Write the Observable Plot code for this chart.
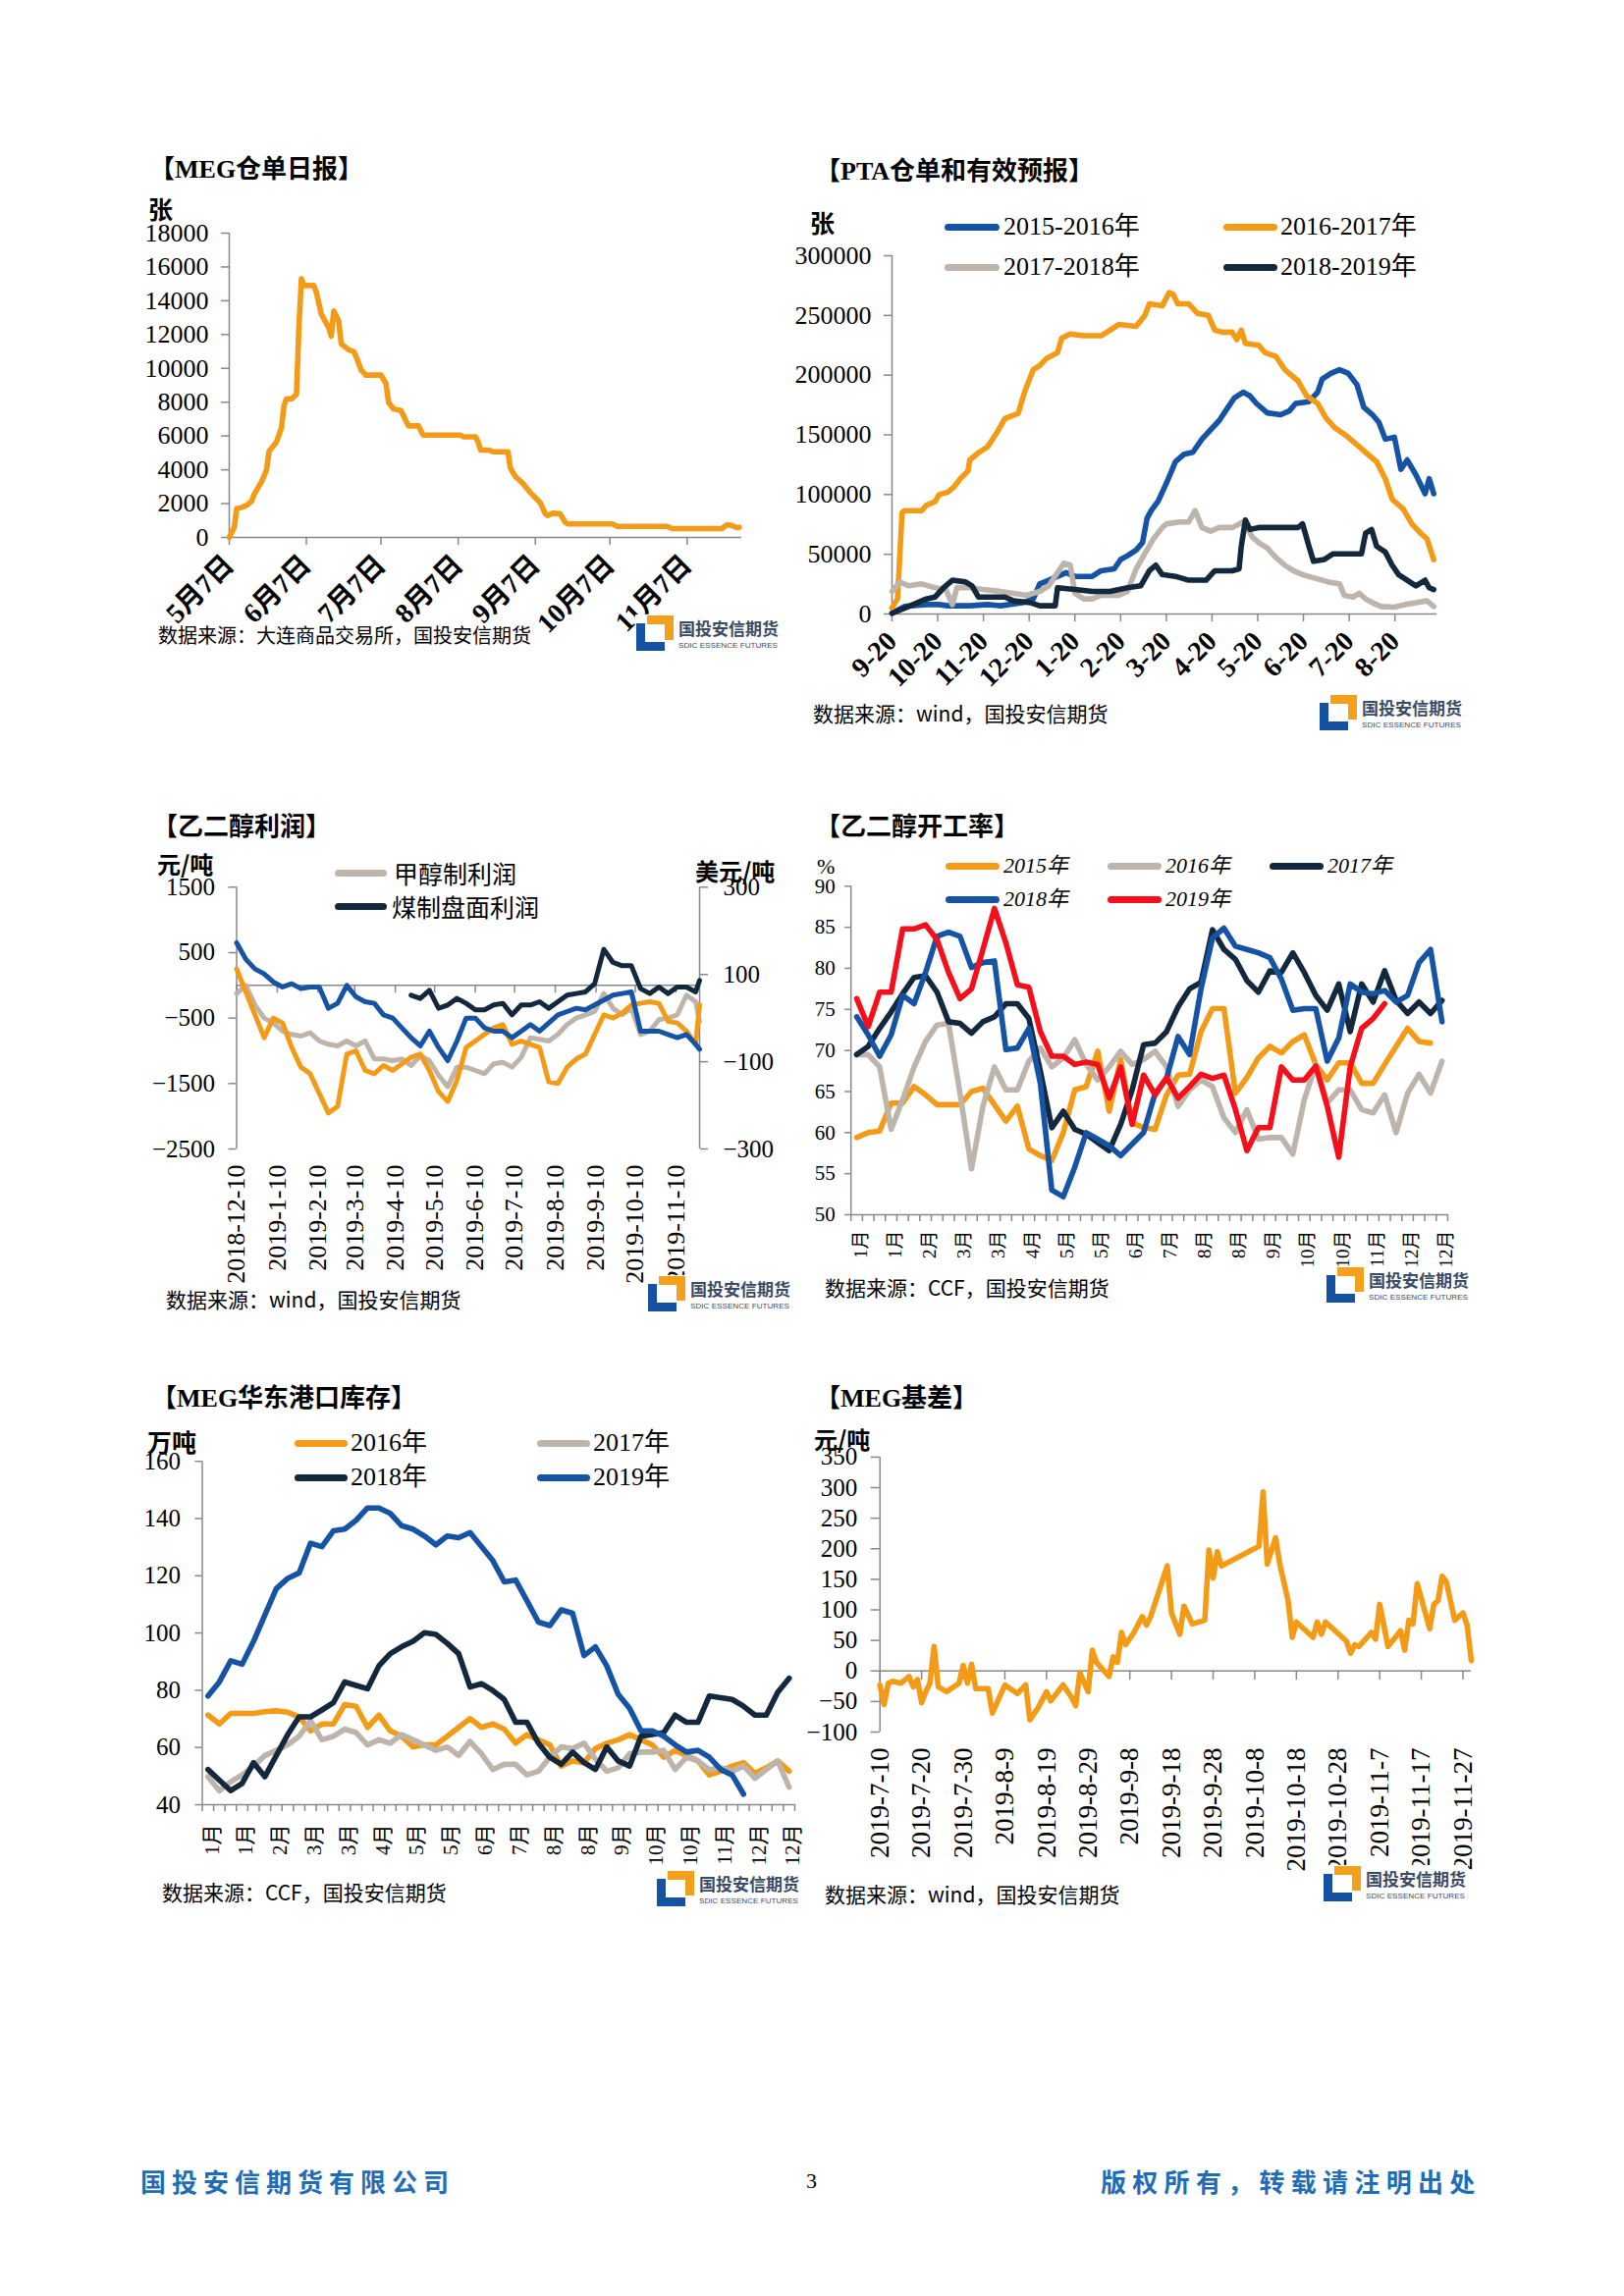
<!DOCTYPE html>
<html><head><meta charset="utf-8">
<script src="https://cdn.jsdelivr.net/npm/d3@7"></script>
<script src="https://cdn.jsdelivr.net/npm/@observablehq/plot@0.6"></script>
<style>
body{margin:0;background:#fff;}
#page{position:relative;width:1654px;height:2339px;background:#fff;overflow:hidden;}
#page svg{overflow:visible;}
</style></head><body><div id="page"></div>
<script>
// ---------------- DATA ----------------
// Chart 1: MEG仓单日报 (张)
const megDates = ["2019-05-07","2019-05-09","2019-05-10","2019-05-12","2019-05-14","2019-05-16","2019-05-17","2019-05-20","2019-05-22","2019-05-23","2019-05-26","2019-05-28","2019-05-29","2019-05-30","2019-06-01","2019-06-03","2019-06-04","2019-06-05","2019-06-06","2019-06-10","2019-06-11","2019-06-13","2019-06-16","2019-06-17","2019-06-18","2019-06-20","2019-06-21","2019-06-24","2019-06-26","2019-06-27","2019-06-29","2019-07-01","2019-07-07","2019-07-09","2019-07-10","2019-07-12","2019-07-15","2019-07-18","2019-07-22","2019-07-24","2019-08-08","2019-08-09","2019-08-14","2019-08-15","2019-08-16","2019-08-19","2019-08-21","2019-08-27","2019-08-28","2019-08-30","2019-09-02","2019-09-05","2019-09-07","2019-09-09","2019-09-11","2019-09-12","2019-09-14","2019-09-17","2019-09-19","2019-09-20","2019-10-08","2019-10-10","2019-10-30","2019-11-01","2019-11-21","2019-11-23","2019-11-25","2019-11-27","2019-11-28"];
const megWarrants = [0,600,1700,1780,1900,2150,2550,3300,4000,5100,5650,6500,7800,8200,8200,8450,12400,15300,14900,14900,14500,13200,12400,11900,13400,12800,11450,11100,11000,10700,9900,9600,9600,9100,8000,7600,7500,6600,6600,6050,6050,5950,5950,5650,5170,5170,5070,5070,4100,3600,3200,2650,2350,2050,1400,1300,1430,1400,900,800,800,650,650,520,520,750,700,580,600];
const megTickDates = ["2019-05-07","2019-06-07","2019-07-07","2019-08-07","2019-09-07","2019-10-07","2019-11-07"];
const megTickLabels = ["5月7日","6月7日","7月7日","8月7日","9月7日","10月7日","11月7日"];

// Chart 2: PTA仓单和有效预报 (张); x = months after 9-20
const ptaTickLabels = ["9-20","10-20","11-20","12-20","1-20","2-20","3-20","4-20","5-20","6-20","7-20","8-20"];
const pta1516 = [[0,600],[0.27,6300],[0.75,7900],[1.03,7900],[1.22,6900],[1.70,6900],[2.09,7900],[2.37,6900],[2.85,9400],[3.09,12600],[3.23,25200],[3.43,28300],[3.62,31500],[3.81,34600],[4.00,31500],[4.38,31500],[4.57,36200],[4.86,37800],[5.00,45600],[5.15,48800],[5.34,53500],[5.48,59800],[5.58,80300],[5.67,86600],[5.82,94400],[6.01,110200],[6.20,127500],[6.39,133800],[6.58,135400],[6.78,146400],[6.97,154300],[7.16,162100],[7.35,173100],[7.49,181000],[7.68,185700],[7.83,182600],[7.97,176300],[8.21,168400],[8.50,166800],[8.69,170000],[8.83,176300],[9.12,177800],[9.31,185700],[9.41,196700],[9.60,201500],[9.79,204600],[9.98,201500],[10.17,192000],[10.32,173100],[10.51,166800],[10.65,160500],[10.79,146400],[10.99,148000],[11.13,121200],[11.27,129000],[11.46,116500],[11.66,100700],[11.75,113300],[11.85,100700]];
const pta1617 = [[0,5000],[0.12,12600],[0.22,85000],[0.27,86500],[0.65,86500],[0.75,91000],[0.94,94000],[1.03,100000],[1.22,102000],[1.37,107000],[1.51,114000],[1.66,119600],[1.70,129000],[1.89,135000],[2.09,140000],[2.28,151000],[2.47,163700],[2.76,168000],[2.90,186000],[3.09,204600],[3.23,208000],[3.38,214000],[3.62,218800],[3.71,231000],[3.90,234500],[4.19,233000],[4.57,233000],[4.77,237700],[4.96,242400],[5.34,240800],[5.53,250000],[5.63,259700],[5.91,258000],[6.06,269000],[6.15,267600],[6.25,259700],[6.49,259700],[6.68,251800],[6.92,250000],[7.06,237700],[7.21,236000],[7.44,236000],[7.54,229800],[7.64,237700],[7.73,226600],[8.02,225000],[8.16,218800],[8.40,215600],[8.59,204600],[8.88,195200],[9.07,182600],[9.31,176300],[9.50,163700],[9.69,155800],[9.93,149500],[10.17,141700],[10.36,135400],[10.60,127500],[10.79,113300],[10.94,96000],[11.18,88100],[11.37,75500],[11.56,67700],[11.70,63000],[11.85,45600]];
const pta1718 = [[0,18900],[0.17,26800],[0.36,23600],[0.65,25200],[0.94,22000],[1.18,20500],[1.32,7900],[1.42,22000],[1.70,22000],[1.99,20500],[2.37,18900],[2.66,17300],[2.95,15700],[3.23,18900],[3.43,23600],[3.62,34600],[3.76,42500],[3.90,40900],[4.00,17300],[4.19,12600],[4.38,12600],[4.57,15700],[4.96,15700],[5.15,18900],[5.34,37800],[5.53,50400],[5.72,63000],[5.91,72400],[6.01,75500],[6.30,77100],[6.49,77100],[6.63,86600],[6.78,72400],[6.97,69300],[7.16,72400],[7.44,72400],[7.68,77100],[7.88,64500],[8.02,59800],[8.21,55100],[8.40,47200],[8.59,40900],[8.78,36200],[8.98,33000],[9.26,29900],[9.55,26800],[9.79,25200],[9.89,15700],[10.08,14200],[10.22,17300],[10.36,12600],[10.51,9400],[10.70,6300],[10.99,5700],[11.22,7900],[11.46,9400],[11.70,11000],[11.85,6300]];
const pta1819 = [[0,600],[0.36,6300],[0.75,12600],[0.94,14200],[1.13,22000],[1.32,28300],[1.61,26800],[1.75,23600],[1.89,14200],[2.09,14200],[2.47,14200],[2.66,11000],[3.04,9400],[3.23,6900],[3.57,6900],[3.62,22000],[4.00,20500],[4.38,18900],[4.77,18900],[5.15,22000],[5.44,23600],[5.63,36200],[5.77,40900],[5.91,33000],[6.20,31500],[6.49,28300],[6.87,28300],[7.06,36200],[7.44,36200],[7.59,37800],[7.64,56700],[7.73,78700],[7.83,70800],[8.02,72400],[8.40,72400],[8.88,72400],[8.98,75500],[9.12,56700],[9.22,44100],[9.45,45600],[9.65,50400],[9.93,50400],[10.27,50400],[10.36,67700],[10.49,70800],[10.60,56700],[10.79,51900],[10.94,40900],[11.08,33000],[11.27,28300],[11.46,23600],[11.66,28300],[11.75,22000],[11.85,20500]];

// Chart 3: 乙二醇利润 (weekly from 2018-12-10, last point 2019-11-28)
const profitStart = "2018-12-10", profitEnd = "2019-11-28";
const profitTickDates = ["2018-12-10","2019-01-10","2019-02-10","2019-03-10","2019-04-10","2019-05-10","2019-06-10","2019-07-10","2019-08-10","2019-09-10","2019-10-10","2019-11-10"];
const profitTickLabels = ["2018-12-10","2019-1-10","2019-2-10","2019-3-10","2019-4-10","2019-5-10","2019-6-10","2019-7-10","2019-8-10","2019-9-10","2019-10-10","2019-11-10"];
const profitMethanol = [-125,0,-300,-500,-575,-700,-750,-775,-725,-850,-900,-925,-850,-925,-850,-1125,-1125,-1150,-1125,-1225,-1075,-1150,-1375,-1550,-1250,-1250,-1300,-1350,-1200,-1175,-1250,-1100,-800,-825,-850,-750,-600,-500,-450,-400,-125,-350,-450,-350,-750,-700,-525,-500,-450,-150,-250,-550];
const profitCoal = [null,null,null,null,null,null,null,null,null,null,null,null,null,null,null,null,null,null,null,-150,-200,-75,-350,-300,-200,-275,-375,-375,-300,-275,-450,-300,-300,-250,-350,-250,-150,-125,-100,25,550,350,300,300,-50,-125,-25,-125,-25,-25,-100,75];
const profitOrange = [250,-100,-450,-800,-500,-575,-950,-1250,-1350,-1650,-1950,-1850,-1050,-1000,-1300,-1350,-1225,-1300,-1200,-1100,-1050,-1300,-1625,-1775,-1450,-950,-850,-750,-650,-600,-900,-850,-900,-950,-1475,-1500,-1250,-1125,-1050,-750,-450,-500,-425,-300,-275,-250,-275,-550,-575,-700,-900,-300];
const profitBlue = [650,400,250,175,50,-25,25,-50,-25,-25,-350,-275,0,-175,-250,-275,-450,-500,-650,-800,-925,-700,-950,-1150,-850,-500,-500,-650,-700,-700,-800,-700,-600,-700,-575,-450,-400,-350,-375,-300,-225,-150,-125,-100,-700,-700,-700,-750,-800,-750,-900,-975];
const profitLeftTicks = [1500,500,-500,-1500,-2500];
const profitRightTicks = [300,100,-100,-300];

// Chart 4: 乙二醇开工率 (%), weekly
const weekLabelWeeks = [1,4,7,10,13,16,19,22,25,28,31,34,37,40,43,46,49,52];
const weekLabels = ["1月","1月","2月","3月","3月","4月","5月","5月","6月","7月","8月","8月","9月","10月","10月","11月","12月","12月"];
const rate2015 = [59.4,60.0,60.2,63.6,63.6,65.6,64.6,63.4,63.4,63.4,65.0,65.4,63.4,61.4,63.2,58.0,57.2,56.6,60.0,65.2,65.6,69.9,62.6,68.9,61.2,60.6,60.4,64.6,67.0,67.1,72.3,75.1,75.1,64.8,66.7,69.1,70.5,69.7,71.1,71.9,68.3,66.4,68.5,68.5,66.0,66.0,68.3,70.5,72.7,71.1,70.9,null];
const rate2016 = [69.5,69.5,68.0,60.4,64.0,68.0,71.1,73.1,73.3,64.8,55.6,63.2,68.0,65.2,65.2,68.7,70.3,68.0,69.1,71.3,68.3,66.4,68.0,69.9,68.3,68.9,69.9,68.0,63.2,65.2,66.4,65.6,61.8,60.0,62.8,59.2,59.4,59.4,57.4,64.0,68.3,63.6,65.2,65.2,62.8,62.4,64.6,60.0,64.8,67.1,64.8,68.7];
const rate2017 = [69.5,70.5,72.7,74.7,76.9,78.9,79.1,77.1,73.5,73.3,72.1,73.5,74.1,75.7,75.7,73.9,67.5,60.6,62.6,60.4,59.8,58.8,57.8,61.0,65.2,70.7,70.9,72.3,75.3,77.5,78.3,84.7,82.3,81.1,78.5,77.1,79.7,79.5,81.9,79.5,76.7,74.9,78.1,72.3,78.1,75.9,79.7,76.1,74.5,75.9,74.5,76.1];
const rate2018 = [74.1,71.9,69.3,71.9,76.7,75.7,79.5,83.9,84.4,83.9,80.1,80.7,80.9,70.1,70.3,72.7,66.0,53.0,52.2,55.8,60.0,59.2,58.4,57.2,58.6,60.0,64.8,66.6,71.7,69.5,77.5,83.7,84.9,82.7,82.3,81.9,81.3,78.7,74.9,75.1,75.1,68.7,71.5,78.1,77.1,76.9,77.3,75.9,76.7,80.7,82.3,73.5];
const rate2019 = [76.3,72.9,77.1,77.1,84.8,84.8,85.3,83.5,79.5,76.3,77.5,82.3,87.3,83.1,78.0,77.7,72.3,69.3,69.3,68.3,68.6,68.3,64.2,68.0,61.0,67.0,64.6,66.7,64.2,65.6,67.1,66.6,67.0,62.8,57.8,60.6,60.6,68.0,66.4,66.4,68.1,63.2,57.0,68.0,72.7,73.9,75.7];

// Chart 5: MEG华东港口库存 (万吨), weekly
const inv2016 = [71.3,68.2,71.9,71.9,71.9,72.5,72.8,72.3,70.7,65.8,68.2,68.2,75.0,74.4,67.0,71.3,65.8,63.9,60.2,60.9,60.9,63.9,67.0,70.1,67.0,68.2,66.4,61.5,64.5,62.7,60.9,53.5,55.3,54.7,59.6,61.5,62.7,64.5,62.7,60.9,56.6,59.0,57.2,55.3,50.4,51.7,53.5,54.7,51.0,52.9,55.3,51.7];
const inv2017 = [49.8,44.9,48.0,50.4,53.5,57.2,59.0,60.9,63.9,69.4,62.7,63.9,66.4,65.2,60.9,62.7,61.5,64.5,62.7,60.9,59.0,60.2,57.2,62.1,57.8,52.3,54.1,54.1,50.4,51.7,56.6,60.2,59.6,61.5,55.9,51.7,52.9,57.8,58.4,58.4,59.0,52.3,56.6,55.3,52.3,52.9,51.7,53.5,49.2,52.3,55.3,46.1];
const inv2018 = [52.3,48.6,44.9,47.4,54.7,49.8,57.2,64.5,70.7,70.7,73.1,75.6,82.9,81.7,80.5,88.5,92.8,95.2,97.1,100.1,99.5,96.4,92.8,81.1,82.3,79.9,76.8,68.8,68.8,61.5,56.6,54.1,58.4,54.7,52.3,60.2,55.3,53.5,63.9,64.5,65.2,71.3,68.8,68.8,78.0,77.4,76.8,74.4,71.3,71.3,79.3,84.2];
const inv2019 = [78.0,82.9,90.3,89.1,97.1,106.3,115.5,119.1,121.0,131.4,130.2,135.7,136.3,139.4,143.7,143.7,141.8,137.5,136.3,133.9,130.8,133.9,133.3,135.1,130.2,125.3,117.9,118.5,111.2,103.8,102.6,108.1,106.9,92.1,95.2,88.5,78.6,73.7,65.8,65.8,63.9,60.9,58.4,59.0,56.6,52.3,50.4,43.7];

// Chart 6: MEG基差 (元/吨)
const basisDates = ["2019-07-10","2019-07-11","2019-07-12","2019-07-13","2019-07-15","2019-07-17","2019-07-18","2019-07-19","2019-07-20","2019-07-21","2019-07-22","2019-07-23","2019-07-24","2019-07-26","2019-07-29","2019-07-30","2019-07-31","2019-08-01","2019-08-02","2019-08-05","2019-08-06","2019-08-09","2019-08-12","2019-08-14","2019-08-15","2019-08-17","2019-08-19","2019-08-20","2019-08-23","2019-08-25","2019-08-26","2019-08-27","2019-08-29","2019-08-30","2019-08-31","2019-09-03","2019-09-04","2019-09-05","2019-09-06","2019-09-07","2019-09-09","2019-09-11","2019-09-12","2019-09-13","2019-09-17","2019-09-18","2019-09-20","2019-09-21","2019-09-23","2019-09-26","2019-09-27","2019-09-28","2019-09-29","2019-09-30","2019-10-09","2019-10-10","2019-10-11","2019-10-13","2019-10-14","2019-10-16","2019-10-17","2019-10-18","2019-10-22","2019-10-23","2019-10-24","2019-10-25","2019-10-30","2019-10-31","2019-11-01","2019-11-02","2019-11-05","2019-11-06","2019-11-07","2019-11-09","2019-11-12","2019-11-13","2019-11-14","2019-11-15","2019-11-16","2019-11-19","2019-11-20","2019-11-21","2019-11-22","2019-11-23","2019-11-25","2019-11-27","2019-11-28","2019-11-29"];
const basisValues = [-23,-55,-20,-17,-20,-9,-26,-14,-52,-34,-20,40,-26,-34,-20,9,-20,11,-29,-29,-69,-23,-37,-23,-80,-60,-34,-49,-23,-43,-57,-3,-34,34,14,-9,23,14,63,43,63,89,75,89,172,95,60,106,77,83,198,152,195,172,204,293,175,218,175,115,55,80,55,80,60,80,49,29,43,40,63,52,109,40,66,34,83,77,143,69,109,115,155,146,83,95,75,17];
const basisTickDates = ["2019-07-10","2019-07-20","2019-07-30","2019-08-09","2019-08-19","2019-08-29","2019-09-08","2019-09-18","2019-09-28","2019-10-08","2019-10-18","2019-10-28","2019-11-07","2019-11-17","2019-11-27"];
const basisTickLabels = ["2019-7-10","2019-7-20","2019-7-30","2019-8-9","2019-8-19","2019-8-29","2019-9-8","2019-9-18","2019-9-28","2019-10-8","2019-10-18","2019-10-28","2019-11-7","2019-11-17","2019-11-27"];

// ---------------- STYLE ----------------
const ORANGE = "#F39B17", BLUE = "#1553A5", NAVY = "#13283C", GREY = "#BDB4AB", RED = "#F50F1B", AX = "#888888";
const LW = 5.6;
const SERIF = '"Liberation Serif","Noto Sans CJK SC",serif';
const CJK = '"Noto Sans CJK SC","Liberation Serif",sans-serif';
const page = document.getElementById("page");
const pd = s => new Date(s + "T00:00:00Z");
const fmtNum = d => d < 0 ? "\u2212" + Math.abs(d) : String(d);

function txt(s, x, y, size, o = {}) {
  const d = document.createElement("div");
  d.textContent = s;
  d.style.cssText = `position:absolute;left:${x}px;top:${y - size / 2}px;font-size:${size}px;line-height:${size}px;white-space:nowrap;font-family:${o.family || SERIF};font-weight:${o.weight || "normal"};font-style:${o.italic ? "italic" : "normal"};color:${o.color || "#000"};letter-spacing:${o.ls || 0}px;`;
  page.appendChild(d);
  return d;
}
function swatch(x1, x2, y, color) {
  const d = document.createElement("div");
  d.style.cssText = `position:absolute;left:${x1}px;top:${y - 3.5}px;width:${x2 - x1}px;height:7px;border-radius:3.5px;background:${color};`;
  page.appendChild(d);
}
function place(svg, left, top) {
  svg.style.position = "absolute";
  svg.style.left = left + "px";
  svg.style.top = top + "px";
  svg.style.maxWidth = "none";
  page.appendChild(svg);
}
function logo(x, y) {
  const d = document.createElement("div");
  d.style.cssText = `position:absolute;left:${x}px;top:${y}px;width:148px;height:38px;background:#fff;`;
  d.innerHTML = `<svg width="148" height="38" style="overflow:visible">
    <polygon points="1,9 10,9 10,28 30,28 30,37 1,37" fill="#1552A3"/>
    <polygon points="12,1 39,1 39,26 30,26 30,10 12,10" fill="#F5A01A"/>
    <text x="44" y="21" font-size="17" font-weight="bold" font-family='"Noto Sans CJK SC"' fill="#3A4A66">国投安信期货</text>
    <text x="44" y="34" font-size="8" font-family='"Liberation Sans"' fill="#3A4A66" textLength="101" lengthAdjust="spacingAndGlyphs">SDIC ESSENCE FUTURES</text>
  </svg>`;
  page.appendChild(d);
}
const baseStyle = size => ({fontFamily: SERIF, fontSize: size + "px", color: "#000", background: "transparent", overflow: "visible"});

// ---------------- CHART 1 ----------------
{
  const rows = megDates.map((d, i) => ({date: pd(d), v: megWarrants[i]}));
  const tickMap = new Map(megTickDates.map((d, i) => [+pd(d), megTickLabels[i]]));
  const svg = Plot.plot({
    width: 635, height: 422, marginLeft: 93, marginRight: 20, marginTop: 12, marginBottom: 100,
    style: baseStyle(26),
    x: {type: "utc", domain: [pd("2019-05-07"), pd("2019-11-29")], label: null},
    y: {domain: [0, 18000], label: null},
    marks: [
      Plot.axisY({ticks: d3.range(0, 18001, 2000), tickSize: 8, tickPadding: 13, stroke: AX, strokeWidth: 1.5, tickFormat: fmtNum, fontSize: 26, label: null}),
      Plot.axisX({ticks: megTickDates.map(pd), tickSize: 8, tickPadding: 15, tickRotate: -45, stroke: AX, strokeWidth: 1.5, tickFormat: d => tickMap.get(+d), fontSize: 28, fontWeight: "bold", label: null}),
      Plot.ruleX([pd("2019-05-07")], {stroke: AX, strokeWidth: 1.5}),
      Plot.ruleY([0], {stroke: AX, strokeWidth: 1.5}),
      Plot.line(rows, {x: "date", y: "v", stroke: ORANGE, strokeWidth: LW})
    ]
  });
  place(svg, 140, 225);
  txt("【MEG仓单日报】", 152, 173, 26, {weight: "bold"});
  txt("张", 151, 212, 25, {weight: "bold", family: CJK});
  txt("数据来源：大连商品交易所，国投安信期货", 161, 647, 20, {family: CJK});
}

// ---------------- CHART 2 ----------------
{
  const series = [["2015-2016年", pta1516, BLUE], ["2016-2017年", pta1617, ORANGE], ["2017-2018年", pta1718, GREY], ["2018-2019年", pta1819, NAVY]];
  const rows = series.flatMap(([name, arr]) => arr.map(([m, v]) => ({name, m, v})));
  const svg = Plot.plot({
    width: 673, height: 485, marginLeft: 98, marginRight: 20, marginTop: 20, marginBottom: 100,
    style: baseStyle(26),
    x: {domain: [0, 11.92], label: null},
    y: {domain: [0, 300000], label: null},
    color: {domain: series.map(s => s[0]), range: series.map(s => s[2])},
    marks: [
      Plot.axisY({ticks: d3.range(0, 300001, 50000), tickSize: 8, tickPadding: 13, stroke: AX, strokeWidth: 1.5, tickFormat: fmtNum, fontSize: 26, label: null}),
      Plot.axisX({ticks: d3.range(0, 12), tickSize: 8, tickPadding: 15, tickRotate: -45, stroke: AX, strokeWidth: 1.5, tickFormat: i => ptaTickLabels[i], fontSize: 28, fontWeight: "bold", label: null}),
      Plot.ruleX([0], {stroke: AX, strokeWidth: 1.5}),
      Plot.ruleY([0], {stroke: AX, strokeWidth: 1.5}),
      Plot.line(rows, {x: "m", y: "v", z: "name", stroke: "name", strokeWidth: LW})
    ]
  });
  place(svg, 810, 240);
  txt("【PTA仓单和有效预报】", 830, 175, 26, {weight: "bold"});
  txt("张", 825, 226, 25, {weight: "bold", family: CJK});
  const lx = [[962, 1018, 1022], [1246, 1301, 1304]], ly = [231, 272];
  series.forEach(([name, , c], i) => {
    const col = lx[i % 2], y = ly[Math.floor(i / 2)];
    swatch(col[0], col[1], y, c);
    txt(name, col[2], y, 26);
  });
  txt("数据来源：wind，国投安信期货", 828, 726, 21, {family: CJK});
}

// ---------------- CHART 3 ----------------
{
  const start = pd(profitStart);
  const dates = d3.range(51).map(i => d3.utcDay.offset(start, 7 * i)).concat([pd(profitEnd)]);
  const series = [["甲醇制利润", profitMethanol, GREY], ["orange", profitOrange, ORANGE], ["blue", profitBlue, BLUE], ["煤制盘面利润", profitCoal, NAVY]];
  const rows = series.flatMap(([name, arr]) => arr.map((v, i) => ({name, date: dates[i], v})));
  const toLeft = v => 1500 + (v - 300) * 4000 / 600;
  const toRight = d => Math.round(300 + (d - 1500) * 600 / 4000);
  const tickDates = profitTickDates.map(pd);
  const tickMap = new Map(profitTickDates.map((d, i) => [+pd(d), profitTickLabels[i]]));
  const svg = Plot.plot({
    width: 652, height: 430, marginLeft: 90.5, marginRight: 90, marginTop: 13.3, marginBottom: 150,
    style: baseStyle(25),
    x: {type: "utc", domain: [start, pd(profitEnd)], label: null},
    y: {domain: [-2500, 1500], label: null},
    color: {domain: series.map(s => s[0]), range: series.map(s => s[2])},
    marks: [
      Plot.ruleX([start], {stroke: AX, strokeWidth: 1.5}),
      Plot.ruleX([pd(profitEnd)], {stroke: AX, strokeWidth: 1.5}),
      Plot.ruleY([0], {stroke: AX, strokeWidth: 1.5}),
      Plot.ruleX(tickDates, {x: d => d, y1: 0, y2: -120, stroke: AX, strokeWidth: 1.5}),
      Plot.axisY({anchor: "left", ticks: profitLeftTicks, tickSize: 8, tickPadding: 14, stroke: AX, strokeWidth: 1.5, tickFormat: fmtNum, fontSize: 25, label: null}),
      Plot.axisY({anchor: "right", ticks: profitRightTicks.map(toLeft), tickSize: 8, tickPadding: 16, stroke: AX, strokeWidth: 1.5, tickFormat: d => fmtNum(toRight(d)), fontSize: 25, label: null}),
      Plot.axisX({ticks: tickDates, tickSize: 0, tickPadding: 16, tickRotate: -90, tickFormat: d => tickMap.get(+d), fontSize: 26, label: null}),
      Plot.line(rows, {x: "date", y: "v", z: "name", stroke: "name", strokeWidth: 5})
    ]
  });
  place(svg, 150, 890);
  txt("【乙二醇利润】", 155, 843, 26, {weight: "bold"});
  txt("元/吨", 160, 880, 24, {weight: "bold", family: CJK});
  txt("美元/吨", 708, 887, 24, {weight: "bold", family: CJK});
  swatch(341, 394, 889, GREY); txt("甲醇制利润", 401, 889, 25, {family: CJK});
  swatch(341, 394, 923, NAVY); txt("煤制盘面利润", 399, 923, 25, {family: CJK});
  txt("数据来源：wind，国投安信期货", 169, 1323, 21, {family: CJK});
}

// ---------------- CHART 4 & 5 (weekly) ----------------
function weekly(opt) {
  const rows = opt.series.flatMap(([name, arr]) => arr.map((v, i) => ({name, w: i + 1, v})).filter(r => r.v != null));
  const lblMap = new Map(weekLabelWeeks.map((w, i) => [w, weekLabels[i]]));
  return Plot.plot({
    width: opt.width, height: opt.height, marginLeft: opt.ml, marginRight: opt.mr, marginTop: opt.mt, marginBottom: opt.mb,
    style: baseStyle(opt.yFont),
    x: {domain: [0.5, 52.5], label: null},
    y: {domain: opt.yDomain, label: null},
    color: {domain: opt.series.map(s => s[0]), range: opt.series.map(s => s[2])},
    marks: [
      Plot.ruleX([0.5], {stroke: AX, strokeWidth: 1.5}),
      Plot.ruleY([opt.yDomain[0]], {stroke: AX, strokeWidth: 1.5}),
      Plot.axisY({ticks: d3.range(opt.yDomain[0], opt.yDomain[1] + 0.1, opt.yStep), tickSize: opt.yTick, tickPadding: opt.yPad, stroke: AX, strokeWidth: 1.5, tickFormat: fmtNum, fontSize: opt.yFont, label: null}),
      Plot.axisX({ticks: d3.range(0.5, 53, 1), tickSize: 7, stroke: AX, strokeWidth: 1.5, tickFormat: () => "", label: null}),
      Plot.axisX({ticks: weekLabelWeeks, tickSize: 0, tickPadding: opt.xPad, tickRotate: -90, tickFormat: w => lblMap.get(w), fontSize: opt.xFont, dx: 4, label: null}),
      Plot.line(rows, {x: "w", y: "v", z: "name", stroke: "name", strokeWidth: LW})
    ]
  });
}
{
  const series = [["2015年", rate2015, ORANGE], ["2016年", rate2016, GREY], ["2017年", rate2017, NAVY], ["2018年", rate2018, BLUE], ["2019年", rate2019, RED]];
  const svg = weekly({series, width: 679, height: 437, ml: 46.2, mr: 25, mt: 7.3, mb: 95, yDomain: [50, 90], yStep: 5, yFont: 21, yTick: 6, yPad: 10, xPad: 16, xFont: 19});
  place(svg, 820, 895);
  txt("【乙二醇开工率】", 830, 843, 26, {weight: "bold"});
  txt("%", 832, 883, 22);
  const cols = [[963, 1018, 1022], [1128, 1183, 1187], [1293, 1348, 1352]], rowsY = [882, 916];
  series.forEach(([name, , c], i) => {
    const col = cols[i % 3], y = rowsY[Math.floor(i / 3)];
    swatch(col[0], col[1], y, c);
    txt(name, col[2], y, 22, {italic: true});
  });
  txt("数据来源：CCF，国投安信期货", 840, 1311, 21, {family: CJK});
}
{
  const series = [["2016年", inv2016, ORANGE], ["2017年", inv2017, GREY], ["2018年", inv2018, NAVY], ["2019年", inv2019, BLUE]];
  const svg = weekly({series, width: 679, height: 438, ml: 55.5, mr: 20, mt: 8.2, mb: 80, yDomain: [40, 160], yStep: 20, yFont: 25, yTick: 7, yPad: 15, xPad: 20, xFont: 21});
  place(svg, 150, 1480);
  txt("【MEG华东港口库存】", 154, 1425, 26, {weight: "bold"});
  txt("万吨", 150, 1468, 25, {weight: "bold", family: CJK});
  const cols = [[300, 354, 357], [547, 601, 604]], rowsY = [1470, 1505];
  series.forEach(([name, , c], i) => {
    const col = cols[i % 2], y = rowsY[Math.floor(i / 2)];
    swatch(col[0], col[1], y, c);
    txt(name, col[2], y, 26);
  });
  txt("数据来源：CCF，国投安信期货", 165, 1927, 21, {family: CJK});
}

// ---------------- CHART 6 ----------------
{
  const rows = basisDates.map((d, i) => ({date: pd(d), v: basisValues[i]}));
  const tickDates = basisTickDates.map(pd);
  const tickMap = new Map(basisTickDates.map((d, i) => [+pd(d), basisTickLabels[i]]));
  const svg = Plot.plot({
    width: 698, height: 439, marginLeft: 75.7, marginRight: 20, marginTop: 8.9, marginBottom: 150,
    style: baseStyle(25),
    x: {type: "utc", domain: [pd("2019-07-10"), pd("2019-11-29")], label: null},
    y: {domain: [-100, 350], label: null},
    marks: [
      Plot.ruleX([pd("2019-07-10")], {stroke: AX, strokeWidth: 1.5}),
      Plot.ruleY([0], {stroke: AX, strokeWidth: 1.5}),
      Plot.ruleX(tickDates, {x: d => d, y1: 0, y2: -15, stroke: AX, strokeWidth: 1.5}),
      Plot.axisY({ticks: d3.range(-100, 351, 50), tickSize: 9, tickPadding: 14, stroke: AX, strokeWidth: 1.5, tickFormat: fmtNum, fontSize: 25, label: null}),
      Plot.axisX({ticks: tickDates, tickSize: 0, tickPadding: 16, tickRotate: -90, tickFormat: d => tickMap.get(+d), fontSize: 27, label: null}),
      Plot.line(rows, {x: "date", y: "v", stroke: ORANGE, strokeWidth: LW})
    ]
  });
  place(svg, 820, 1475);
  txt("【MEG基差】", 830, 1425, 26, {weight: "bold"});
  txt("元/吨", 829, 1466, 24, {weight: "bold", family: CJK});
  txt("数据来源：wind，国投安信期货", 840, 1929, 21, {family: CJK});
}

// ---------------- LOGOS & FOOTER ----------------
logo(647, 626); logo(1343, 707); logo(659, 1299); logo(1350, 1290); logo(668, 1905); logo(1347, 1900);
txt("国投安信期货有限公司", 143, 2222, 26, {weight: "bold", family: CJK, color: "#1F6DB6", ls: 6});
txt("3", 821, 2222, 22);
txt("版权所有，转载请注明出处", 1121, 2222, 26, {weight: "bold", family: CJK, color: "#1F6DB6", ls: 6.3});
</script></body></html>
